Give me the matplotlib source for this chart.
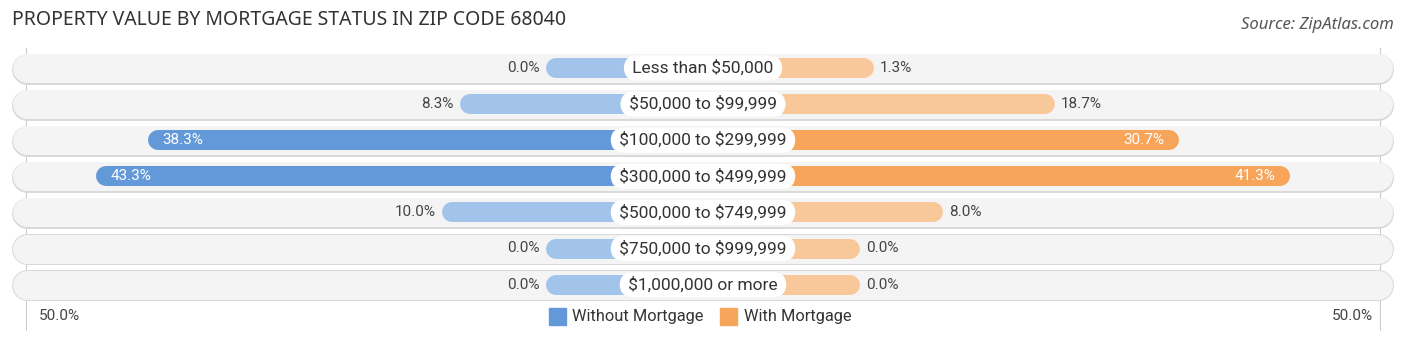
import matplotlib.pyplot as plt

plt.rcParams['text.parse_math'] = False

# Property value brackets and shares (%) by mortgage status
categories = ['Less than $50,000', '$50,000 to $99,999', '$100,000 to $299,999',
              '$300,000 to $499,999', '$500,000 to $749,999', '$750,000 to $999,999',
              '$1,000,000 or more']
without_mortgage = [0.0, 8.3, 38.3, 43.3, 10.0, 0.0, 0.0]
with_mortgage = [1.3, 18.7, 30.7, 41.3, 8.0, 0.0, 0.0]
axis_max = 50.0

BLUE = '#6399d8'
BLUE_LIGHT = '#a3c4ea'
ORANGE = '#f7a55a'
ORANGE_LIGHT = '#f9c89a'

W, H, DPI = 1406, 340, 100
PX_PER_UNIT = 10.4      # horizontal pixels per percent
ROW_PX = 36.1           # vertical pixels per row
OFFSET = 15.1           # bars start under the label box
INSIDE = 25             # values above this are printed inside the bar

fig = plt.figure(figsize=(W / DPI, H / DPI), dpi=DPI)
ax = fig.add_axes([0, 0, 1, 1])
half = W / 2 / PX_PER_UNIT
ax.set_xlim(-half, half)
ax.set_ylim((H - 68) / ROW_PX, -68 / ROW_PX)
ax.axis('off')


def px(p):
    # pixel thickness -> points for linewidth
    return p * 72 / DPI


def cap(p):
    # half a round cap, in x data units
    return p / 2 / PX_PER_UNIT


bar_px = 20
bg_px = 29
edge = -(OFFSET + axis_max)

for i, cat in enumerate(categories):
    # background pill with a faint border
    x0 = -66.4 + cap(bg_px)
    x1 = 66.25 - cap(bg_px)
    ax.plot([x0, x1], [i + 0.02, i + 0.02], color='#d9d9d9', lw=px(bg_px + 2),
            solid_capstyle='round', zorder=1)
    ax.plot([x0, x1], [i, i], color='#f4f4f4', lw=px(bg_px),
            solid_capstyle='round', zorder=2)

    # left bar (without mortgage)
    v = without_mortgage[i]
    end = -(OFFSET + v)
    big = v > INSIDE
    ax.plot([0, end + cap(bar_px)], [i, i], color=BLUE if big else BLUE_LIGHT,
            lw=px(bar_px), solid_capstyle='round', zorder=3)
    if big:
        ax.text(end + 1.4, i, f'{v:.1f}%', color='white', fontsize=11,
                ha='left', va='center', family='Roboto', zorder=5)
    else:
        ax.text(end - 0.6, i, f'{v:.1f}%', color='#444444', fontsize=11,
                ha='right', va='center', family='Roboto', zorder=5)

    # right bar (with mortgage)
    v = with_mortgage[i]
    end = OFFSET + v
    big = v > INSIDE
    ax.plot([0, end - cap(bar_px)], [i, i], color=ORANGE if big else ORANGE_LIGHT,
            lw=px(bar_px), solid_capstyle='round', zorder=3)
    if big:
        ax.text(end - 1.4, i, f'{v:.1f}%', color='white', fontsize=11,
                ha='right', va='center', family='Roboto', zorder=5)
    else:
        ax.text(end + 0.6, i, f'{v:.1f}%', color='#444444', fontsize=11,
                ha='left', va='center', family='Roboto', zorder=5)

    # category label in a white rounded box
    ax.text(0, i, ' ' + cat + ' ', fontsize=12.5, ha='center', va='center',
            family='Roboto', color='#333333', zorder=6,
            bbox=dict(boxstyle='round,pad=0.26,rounding_size=0.8', fc='white',
                      ec='none'))

# outer guide lines at +/-50%
y_top = (48 - 68) / ROW_PX
y_bot = (330 - 68) / ROW_PX
for s in (-1, 1):
    ax.plot([s * (OFFSET + axis_max)] * 2, [y_top, y_bot], color='#cccccc',
            lw=0.8, zorder=0)

y_axis = (316 - 68) / ROW_PX
ax.text(edge + 1.2, y_axis, f'{axis_max:.1f}%', fontsize=11, ha='left',
        va='center', color='#444444', family='Roboto')
ax.text(-edge - 0.7, y_axis, f'{axis_max:.1f}%', fontsize=11, ha='right',
        va='center', color='#444444', family='Roboto')

# legend
for x, color, label in [(-14.0, BLUE, 'Without Mortgage'),
                        (2.45, ORANGE, 'With Mortgage')]:
    ax.plot([x], [y_axis], marker='s', color=color, markersize=px(17),
            linestyle='none', zorder=3)
    ax.text(x + 1.45, y_axis, label, fontsize=11.8, ha='left',
            va='center', color='#333333', family='Roboto')

fig.text(12 / W, 1 - 20 / H, 'PROPERTY VALUE BY MORTGAGE STATUS IN ZIP CODE 68040',
         fontsize=14, ha='left', va='center', color='#333333', family='Noto Sans')
fig.text(1394 / W, 1 - 25 / H, 'Source: ZipAtlas.com', fontsize=12,
         ha='right', va='center', color='#555555', style='italic',
         family='Noto Sans')

fig.savefig('out.png', dpi=DPI)
